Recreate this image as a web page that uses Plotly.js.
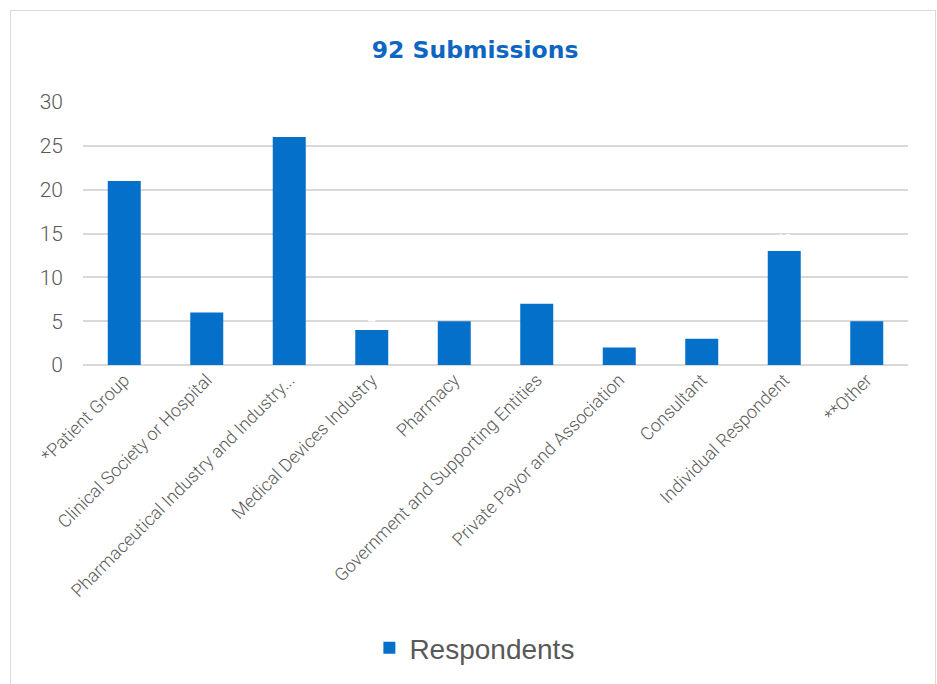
<!DOCTYPE html>
<html>
<head>
<meta charset="utf-8">
<script src="https://cdn.plot.ly/plotly-3.0.1.min.js"></script>
<style>
html,body{margin:0;padding:0;background:#fff;}
#chart{width:937px;height:684px;}
#frame{position:absolute;left:10px;top:10px;width:924px;height:690px;border:1px solid #d9d9d9;pointer-events:none;}
</style>
</head>
<body>
<div id="chart"></div>
<div id="frame"></div>
<script>
const categories = ["*Patient Group","Clinical Society or Hospital","Pharmaceutical Industry and Industry...","Medical Devices Industry","Pharmacy","Government and Supporting Entities","Private Payor and Association","Consultant","Individual Respondent","**Other"];
const respondents = [21,6,26,4,5,7,2,3,13,5];
const yTicks = [0,5,10,15,20,25,30];

const trace = {
  type:'bar', x:categories, y:respondents, name:'Respondents',
  marker:{color:'#0570c9'},
  text:respondents.map(String), textposition:'outside', cliponaxis:false,
  textfont:{color:'#ffffff', size:14, family:'Roboto'},
  hoverinfo:'x+y'
};
const layout = {
  width:937, height:684,
  margin:{l:83, r:29, t:102, b:319},
  paper_bgcolor:'#ffffff', plot_bgcolor:'#ffffff',
  title:{text:'<b>92 Submissions</b>', x:0.507, xanchor:'center', y:0.927, yanchor:'middle',
    font:{family:'DejaVu Sans', size:23.5, color:'#0f66c2'}},
  bargap:0.6,
  showlegend:true,
  legend:{orientation:'h', x:0.475, xanchor:'center', y:-1.076, yanchor:'middle',
    font:{family:'Liberation Sans', size:28, color:'#595959'}, itemwidth:30},
  xaxis:{tickangle:-45, tickfont:{family:'Roboto', size:18, weight:300, color:'#595959'},
    showgrid:false, showline:false, ticks:'', automargin:false},
  yaxis:{range:[0,30], tickvals:yTicks, ticktext:yTicks.map(String),
    tickfont:{family:'Roboto', size:21, weight:300, color:'#595959'},
    ticklabelstandoff:19,
    showgrid:true, gridcolor:'#d9d9d9', gridwidth:1.5, zeroline:true, zerolinecolor:'#d9d9d9', zerolinewidth:1.5,
    showline:false, ticks:'', ticklen:0, automargin:false}
};
Plotly.newPlot('chart',[trace],layout,{displayModeBar:false});
</script>
</body>
</html>
